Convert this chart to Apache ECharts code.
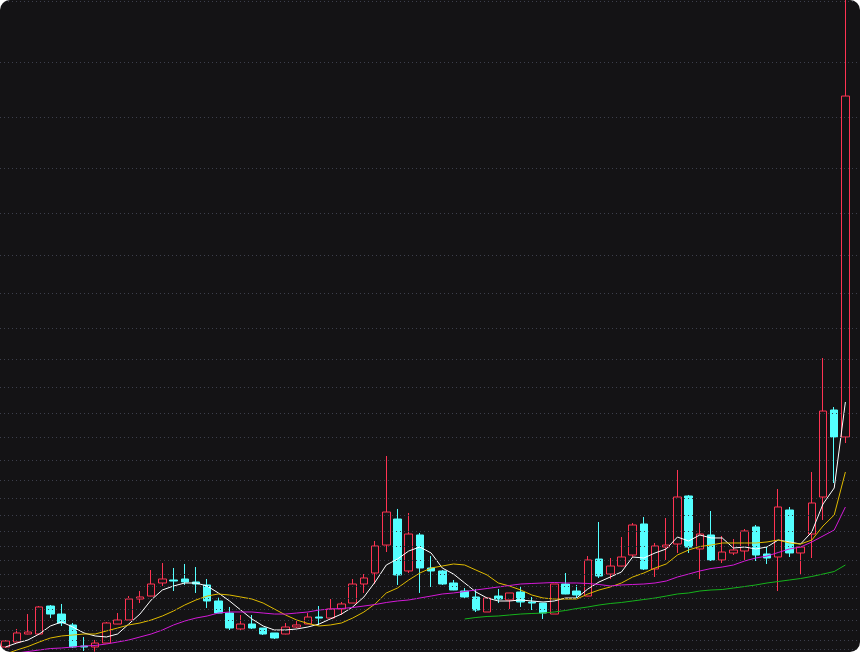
<!DOCTYPE html>
<html><head><meta charset="utf-8">
<script src="https://cdn.jsdelivr.net/npm/echarts@6/dist/echarts.min.js"></script>
<style>
html,body{margin:0;padding:0;background:#ffffff;}
#chart{width:860px;height:652px;background:#141315;border-radius:10px;overflow:hidden;}
</style></head><body><div id="chart"></div>
<script>
const categories = Array.from({length: 76}, (_, i) => 'D' + (i + 1));

const openPrices = [4.74,5.47,6.65,6.65,10.77,9.59,7.98,4.88,4.74,5.32,
8.12,8.71,11.80,12.24,14.16,14.60,14.75,14.31,13.87,11.51,
9.74,7.39,8.12,7.53,6.80,6.65,7.68,8.12,9.15,9.00,
10.33,11.21,14.01,15.63,19.75,23.58,15.93,21.23,16.37,15.93,
14.16,12.98,12.10,9.89,12.24,11.66,12.83,11.36,11.21,9.59,
14.01,12.98,12.24,17.69,15.48,16.66,18.28,22.85,16.22,19.46,
19.90,26.97,19.17,21.23,17.55,18.58,18.87,22.41,18.43,17.99,
24.91,18.58,21.37,26.82,39.63,35.66];

const closePrices = [5.62,6.80,6.94,10.63,9.59,8.27,4.74,4.74,5.32,8.27,
8.71,11.80,12.10,14.01,14.75,14.45,14.31,14.01,11.51,9.74,
7.53,8.12,7.53,6.65,6.06,7.68,7.98,9.15,9.00,10.33,
11.07,14.01,14.90,19.61,24.61,15.34,21.37,16.37,15.93,14.01,
13.13,12.10,10.18,11.95,11.80,12.69,11.36,11.21,9.74,14.01,
12.54,12.39,17.55,15.19,16.66,17.99,22.70,16.22,19.61,19.75,
26.82,19.46,21.37,17.55,18.72,19.02,21.82,18.28,17.84,25.35,
18.58,19.46,25.94,39.48,35.66,85.86];

const lowPrices = [4.60,5.40,6.60,6.60,9.00,7.83,4.59,4.15,4.05,5.30,
8.10,8.70,11.21,12.20,13.72,12.98,13.87,12.69,10.48,9.70,
7.24,7.09,7.39,6.50,5.91,6.60,7.53,8.10,7.98,9.00,
9.45,11.20,12.69,14.01,18.72,13.87,15.63,12.69,13.57,13.87,
13.10,11.80,9.89,9.89,11.21,10.33,10.63,10.18,8.86,9.59,
12.50,11.80,12.20,14.90,14.75,16.60,17.99,16.07,15.04,17.55,
18.58,18.58,14.75,17.40,17.10,18.28,17.55,17.40,16.96,12.98,
17.99,15.34,17.84,23.44,28.88,34.77];

const highPrices = [5.75,7.39,9.59,10.77,10.92,11.07,8.27,6.21,5.77,8.42,
9.74,12.24,12.98,16.07,17.10,16.37,16.96,16.51,14.75,12.00,
10.63,9.45,9.45,7.53,6.80,8.27,8.71,9.74,10.77,11.80,
11.36,14.75,15.48,20.34,32.86,25.06,24.47,21.52,18.13,16.07,
14.60,13.42,13.28,11.95,13.28,12.70,13.72,12.10,11.21,14.01,
15.63,13.87,18.13,23.14,17.84,20.93,22.99,23.88,20.05,23.73,
30.80,27.12,22.99,24.76,21.08,20.64,22.11,22.70,19.46,28.00,
25.35,19.50,30.50,47.29,40.07,100.00];

const ma5 = [4.74,5.32,5.77,6.65,7.83,8.42,7.68,6.80,6.36,6.21,
6.65,8.12,9.59,11.66,13.13,13.72,14.16,14.16,13.72,12.69,
11.51,10.18,8.86,7.83,7.24,7.24,7.39,7.68,8.12,8.86,
9.59,10.63,12.10,14.31,16.81,17.69,18.87,19.46,18.58,16.37,
15.48,14.16,12.84,11.95,11.51,11.51,11.66,11.51,11.36,11.51,
11.95,11.95,13.28,14.31,15.04,15.78,17.99,17.84,18.58,19.17,
20.93,20.34,21.23,20.79,20.79,19.31,19.46,19.17,19.46,20.49,
20.20,19.90,21.67,25.79,28.15,40.81];

const ma10 = [3.70,4.29,4.81,5.47,6.06,6.36,6.50,6.65,6.65,7.09,
7.53,7.98,8.27,8.71,9.30,10.04,10.92,11.66,12.24,12.54,
12.39,12.10,11.80,11.21,10.33,9.45,8.71,8.20,7.83,7.98,
8.27,9.00,9.89,11.07,12.69,13.42,14.60,15.63,16.37,16.66,
16.96,16.81,16.07,15.34,14.16,13.72,13.13,12.39,11.95,11.80,
11.80,11.80,12.54,13.13,13.57,14.16,15.04,15.63,16.37,16.96,
18.28,19.02,19.53,19.75,20.05,20.05,20.05,20.05,20.20,20.49,
20.05,19.90,20.49,22.55,24.17,30.50];

const ma20 = [3.60,3.85,4.07,4.29,4.51,4.59,4.74,4.88,4.96,5.18,
5.47,5.77,6.21,6.65,7.24,7.98,8.56,9.00,9.30,9.74,
9.89,9.89,9.89,9.74,9.59,9.59,9.74,9.89,10.18,10.33,
10.40,10.55,10.77,10.99,11.29,11.51,11.66,11.95,12.24,12.54,
12.69,12.91,13.13,13.35,13.57,13.79,14.01,14.09,14.16,14.24,
14.16,14.16,14.09,13.94,13.72,13.87,13.94,14.01,14.16,14.45,
15.04,15.48,15.93,16.29,16.51,16.81,17.40,17.84,18.13,18.65,
19.17,19.46,20.20,21.08,21.96,25.35];

const ma60 = ['-','-','-','-','-','-','-','-','-','-',
'-','-','-','-','-','-','-','-','-','-',
'-','-','-','-','-','-','-','-','-','-',
'-','-','-','-','-','-','-','-','-','-',
'-',8.86,9.08,9.23,9.30,9.45,9.59,9.67,9.74,9.89,
10.11,10.40,10.63,10.92,11.14,11.29,11.51,11.73,11.95,12.24,
12.54,12.69,12.98,13.13,13.20,13.42,13.64,13.87,14.16,14.38,
14.60,14.82,15.12,15.48,15.85,16.81];

const gridLevels = [99.85,90.87,82.77,75.26,68.64,62.45,56.86,51.71,47.14,43.02,
39.19,35.66,32.27,29.32,26.67,24.17,21.82,19.61,17.55,15.48,
13.72,11.95,10.33,8.71,7.24,5.77,4.44];

const chart = echarts.init(document.getElementById('chart'), null, {renderer: 'canvas'});
const candleData = openPrices.map((o, i) => [o, closePrices[i], lowPrices[i], highPrices[i]]);

function maSeries(data, color) {
  return {
    type: 'line', xAxisIndex: 1, yAxisIndex: 1, data: data,
    symbol: 'none', showSymbol: false, smooth: false, silent: true,
    lineStyle: {color: color, width: 1}, z: 3
  };
}

chart.setOption({
  backgroundColor: 'transparent',
  animation: false,
  grid: [
    {left: 0, right: 0, top: 0, bottom: 0},
    {left: 0, right: 9, top: 0, bottom: 0}
  ],
  xAxis: [
    {type: 'value', gridIndex: 0, min: 0, max: 1, show: false},
    {type: 'category', gridIndex: 1, data: categories, show: false, boundaryGap: true}
  ],
  yAxis: [
    {type: 'value', gridIndex: 0, min: 4, max: 100, show: false},
    {type: 'value', gridIndex: 1, min: 4, max: 100, show: false}
  ],
  series: [
    {
      type: 'line', xAxisIndex: 0, yAxisIndex: 0, data: [[0, 4]],
      symbol: 'none', showSymbol: false, silent: true, lineStyle: {opacity: 0}, z: 1,
      markLine: {
        silent: true, symbol: ['none', 'none'], label: {show: false}, animation: false,
        lineStyle: {type: [1, 3], color: '#3d3f4c', width: 1},
        emphasis: {disabled: true},
        data: gridLevels.map(v => ({yAxis: v}))
      }
    },
    {
      type: 'candlestick', xAxisIndex: 1, yAxisIndex: 1, data: candleData,
      barWidth: 8, silent: true, z: 2,
      itemStyle: {color: '#141315', color0: '#54ffff', borderColor: '#ff3352', borderColor0: '#54ffff', borderWidth: 1}
    },
    maSeries(ma5, '#ffffff'),
    maSeries(ma10, '#e0bb00'),
    maSeries(ma20, '#d41ad8'),
    maSeries(ma60, '#16b41c')
  ]
});
</script></body></html>
